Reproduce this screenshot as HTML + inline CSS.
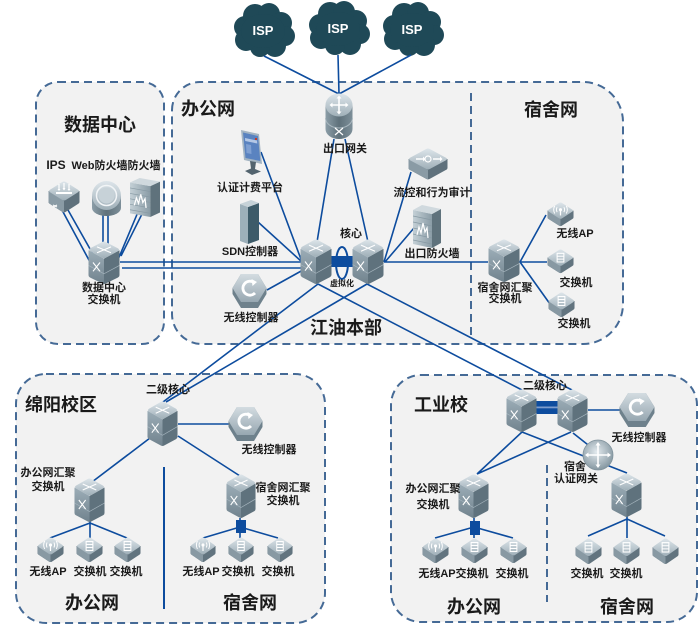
<!DOCTYPE html>
<html><head><meta charset="utf-8">
<style>
html,body{margin:0;padding:0;background:#fff;}
svg{display:block;}
text{font-family:"Liberation Sans","Noto Sans CJK SC",sans-serif;font-weight:bold;fill:#1a1a1a;}
.s{font-size:11px;text-anchor:middle;}
.b{font-size:18px;text-anchor:middle;}
.ln{stroke:#0d4c9e;stroke-width:1.6;fill:none;}
.box{fill:#f2f2f2;stroke:#456a96;stroke-width:2;stroke-dasharray:8 5;}
.dv{stroke:#456a96;stroke-width:2;stroke-dasharray:8 5;fill:none;}
</style></head><body>
<svg width="700" height="635" viewBox="0 0 700 635" xmlns="http://www.w3.org/2000/svg">
<defs>
<linearGradient id="gT" x1="0" y1="0" x2="0" y2="1"><stop offset="0" stop-color="#dde5ea"/><stop offset="1" stop-color="#9fafb8"/></linearGradient>
<linearGradient id="gL" x1="0" y1="0" x2="0" y2="1"><stop offset="0" stop-color="#9cadb7"/><stop offset="1" stop-color="#71838e"/></linearGradient>
<linearGradient id="gH" x1="0" y1="0" x2="0" y2="1"><stop offset="0" stop-color="#d3dce1"/><stop offset="1" stop-color="#97a7b1"/></linearGradient>
<linearGradient id="gCyl" x1="0" y1="0" x2="1" y2="0"><stop offset="0" stop-color="#8c9ea8"/><stop offset="0.5" stop-color="#5f717b"/><stop offset="1" stop-color="#7d8f99"/></linearGradient>
<linearGradient id="gW" x1="0" y1="0" x2="1" y2="0"><stop offset="0" stop-color="#c4d0d6"/><stop offset="1" stop-color="#8a9ca6"/></linearGradient>
<radialGradient id="gG" cx="0.45" cy="0.4" r="0.6"><stop offset="0" stop-color="#e3eaee"/><stop offset="1" stop-color="#8698a2"/></radialGradient>

<symbol id="cloud" viewBox="0 0 64 54">
<g fill="#1f4957">
<circle cx="14" cy="24" r="11"/><circle cx="24" cy="13" r="12"/><circle cx="38" cy="11" r="11"/><circle cx="50" cy="20" r="11"/>
<circle cx="54" cy="33" r="10"/><circle cx="44" cy="43" r="11"/><circle cx="29" cy="44" r="10"/><circle cx="15" cy="37" r="11"/>
<ellipse cx="32" cy="28" rx="22" ry="17"/>
</g>
</symbol>

<symbol id="sw" viewBox="0 0 32 44" preserveAspectRatio="none">
<path d="M16 18 L31.5 9.5 L31.5 35 Q31.5 36.5 30 37.3 L17.5 43.6 Q16.8 44 16 44 Z" fill="#5f727d"/>
<path d="M16 18 L0.5 9.5 L0.5 35 Q0.5 36.5 2 37.3 L14.5 43.6 Q15.2 44 16 44Z" fill="url(#gL)"/>
<path d="M0.5 25 L16 33.5 L31.5 25" stroke="#a6b5be" stroke-width="0.7" fill="none"/>
<path d="M2 7.6 L14.4 0.9 Q16 0 17.6 0.9 L30 7.6 Q32 9 30 10.4 L17.6 17.1 Q16 18 14.4 17.1 L2 10.4 Q0 9 2 7.6Z" fill="url(#gT)"/>
<path d="M9 6 L23 12 M9 12 L23 6" stroke="#fff" stroke-width="1.1"/>
<path d="M5 22 L12 31 M5 31 L12 22" stroke="#fff" stroke-width="1.1"/>
</symbol>

<symbol id="acc" viewBox="0 0 28 26" preserveAspectRatio="none">
<path d="M0.5 9 L0.5 16 Q0.5 17 1.5 17.6 L12.5 24.6 Q14 25.5 15.5 24.6 L26.5 17.6 Q27.5 17 27.5 16 L27.5 9Z" fill="#62747f"/>
<path d="M0.5 9 L0.5 16 Q0.5 17 1.5 17.6 L12.5 24.6 Q13.2 25 14 25 L14 18Z" fill="#8899a3"/>
<path d="M2 7.8 L12.4 1 Q14 0 15.6 1 L26 7.8 Q28 9 26 10.2 L15.6 17 Q14 18 12.4 17 L2 10.2 Q0 9 2 7.8Z" fill="url(#gT)"/>
<rect x="10.5" y="4.5" width="7" height="9" fill="none" stroke="#fff" stroke-width="1.1"/>
<path d="M10.5 7.5 H17.5 M10.5 10.5 H17.5" stroke="#fff" stroke-width="1"/>
</symbol>

<symbol id="ap" viewBox="0 0 28 26" preserveAspectRatio="none">
<path d="M0.5 9 L0.5 16 Q0.5 17 1.5 17.6 L12.5 24.6 Q14 25.5 15.5 24.6 L26.5 17.6 Q27.5 17 27.5 16 L27.5 9Z" fill="#62747f"/>
<path d="M0.5 9 L0.5 16 Q0.5 17 1.5 17.6 L12.5 24.6 Q13.2 25 14 25 L14 18Z" fill="#8899a3"/>
<path d="M2 7.8 L12.4 1 Q14 0 15.6 1 L26 7.8 Q28 9 26 10.2 L15.6 17 Q14 18 12.4 17 L2 10.2 Q0 9 2 7.8Z" fill="url(#gT)"/>
<circle cx="14" cy="8" r="1.6" fill="#fff"/>
<path d="M14 8 L14 14" stroke="#fff" stroke-width="1.3"/>
<path d="M10.5 5.5 Q9 8 10.5 10.5 M17.5 5.5 Q19 8 17.5 10.5 M8 4 Q5.8 8 8 12 M20 4 Q22.2 8 20 12" stroke="#fff" stroke-width="1" fill="none"/>
</symbol>

<symbol id="hex" viewBox="0 0 35 36" preserveAspectRatio="none">
<path d="M9 1 L26 1 L34.5 15 L34.5 21 L26 35 L9 35 L0.5 21 L0.5 15Z" fill="#6e818c"/>
<path d="M9 1 L26 1 L34.5 15 L26 29 L9 29 L0.5 15Z" fill="url(#gH)"/>
<path d="M22 9.5 A7 7 0 1 0 23 20" stroke="#fff" stroke-width="2.8" fill="none"/>
<path d="M19.5 6 L25 9 L20.5 13Z" fill="#fff"/>
</symbol>

<symbol id="rt" viewBox="0 0 28 47" preserveAspectRatio="none">
<path d="M0.5 12 L0.5 36 A13.5 10 0 0 0 27.5 36 L27.5 12Z" fill="url(#gCyl)"/>
<path d="M0.5 25 A13.5 10 0 0 0 27.5 25" stroke="#a9b7bf" stroke-width="1" fill="none"/>
<ellipse cx="14" cy="12" rx="13.5" ry="11.5" fill="url(#gT)"/>
<path d="M14 4 L14 20 M6 12 L22 12" stroke="#fff" stroke-width="1.6"/>
<path d="M14 2.5 L11.5 5.5 H16.5Z M14 21.5 L11.5 18.5 H16.5Z M4.5 12 L7.5 9.5 V14.5Z M23.5 12 L20.5 9.5 V14.5Z" fill="#fff"/>
<path d="M10 35 L18 42 M10 42 L18 35" stroke="#fff" stroke-width="1.2"/>
</symbol>

<symbol id="mon" viewBox="0 0 23 47" preserveAspectRatio="none">
<path d="M1 2 L19 6 L22 36 L4 32Z" fill="#a3b4c2"/>
<path d="M3 4.5 L18 8 L20.3 33 L5.5 30Z" fill="#5a83c0"/>
<path d="M5 10 L17 12.5 L17.3 15.5 L5.2 13Z" fill="#b4c8e6"/>
<path d="M6 16 L11 17 L11.5 26 L6.5 25Z" fill="#7fa0d2"/>
<rect x="15" y="10" width="2" height="2" fill="#c0392b"/>
<path d="M10 33 L16 34 L15 41 L21 43.5 L12 47 L5 43 L11 40.5Z" fill="#52636e"/>
</symbol>

<symbol id="tower" viewBox="0 0 19 44" preserveAspectRatio="none">
<path d="M0 4 L8 7 L8 44 L0 41Z" fill="#9db0ba"/>
<path d="M8 7 L19 3 L19 40 L8 44Z" fill="#3d5b69"/>
<path d="M0 4 L11 0 L19 3 L8 7Z" fill="#c6d2d8"/>
</symbol>

<symbol id="flow" viewBox="0 0 40 32" preserveAspectRatio="none">
<path d="M0.5 11 L0.5 20 Q0.5 21 1.5 21.6 L18.5 31 Q20 31.8 21.5 31 L38.5 21.6 Q39.5 21 39.5 20 L39.5 11Z" fill="#5f717c"/>
<path d="M0.5 11 L0.5 20 Q0.5 21 1.5 21.6 L18.5 31 Q19.2 31.4 20 31.4 L20 22Z" fill="#8a9ba5"/>
<path d="M2 9.8 L18.2 1 Q20 0 21.8 1 L38 9.8 Q40 11 38 12.2 L21.8 21 Q20 22 18.2 21 L2 12.2 Q0 11 2 9.8Z" fill="url(#gT)"/>
<circle cx="20" cy="11" r="3" fill="none" stroke="#fff" stroke-width="1.2"/>
<path d="M8 11 H15 M25 11 H32" stroke="#fff" stroke-width="1.4"/>
<path d="M15 8.5 L17.5 11 L15 13.5Z M32 8.5 L34.5 11 L32 13.5Z" fill="#fff"/>
</symbol>

<symbol id="wall" viewBox="0 0 28 43" preserveAspectRatio="none">
<path d="M0 5 L19 9 L19 43 L0 39Z" fill="url(#gW)"/>
<path d="M19 9 L28 4 L28 38 L19 43Z" fill="#5f727c"/>
<path d="M0 5 L9 0 L28 4 L19 9Z" fill="#d0d9de"/>
<path d="M0 11 L19 15 M0 17 L19 21 M0 23 L19 27 M0 29 L19 33 M0 35 L19 39" stroke="#8799a3" stroke-width="0.7"/>
<path d="M4 30 L6 22 L8 28 L10 18 L12 27 L14 23 L15 33" stroke="#fff" stroke-width="1.2" fill="none"/>
</symbol>

<symbol id="ips" viewBox="0 0 32 32" preserveAspectRatio="none">
<path d="M0.5 10 L0.5 21 Q0.5 22 1.5 22.6 L14.5 31 Q16 31.8 17.5 31 L30.5 22.6 Q31.5 22 31.5 21 L31.5 10Z" fill="#5f717c"/>
<path d="M0.5 10 L0.5 21 Q0.5 22 1.5 22.6 L14.5 31 Q15.2 31.4 16 31.4 L16 20Z" fill="#8a9ba5"/>
<path d="M2 8.8 L14.2 1 Q16 0 17.8 1 L30 8.8 Q32 10 30 11.2 L17.8 19 Q16 20 14.2 19 L2 11.2 Q0 10 2 8.8Z" fill="url(#gT)"/>
<path d="M8 12 L24 12" stroke="#fff" stroke-width="2"/>
<path d="M11 3 V9 M16 2 V9 M21 3 V9" stroke="#fff" stroke-width="1.2"/>
<path d="M9.5 8 L11 10 L12.5 8Z M14.5 7 L16 9.5 L17.5 7Z M19.5 8 L21 10 L22.5 8Z" fill="#fff"/>
<path d="M5 24 L9 26 M5 26 L9 24" stroke="#fff" stroke-width="1"/>
</symbol>

<symbol id="wfw" viewBox="0 0 31 37" preserveAspectRatio="none">
<path d="M1 16 L1 28 A14.5 8 0 0 0 30 28 L30 16Z" fill="url(#gCyl)"/>
<circle cx="15.5" cy="15.5" r="14.5" fill="url(#gT)"/>
<circle cx="15.5" cy="15.5" r="10" fill="none" stroke="#f2f5f7" stroke-width="1.5"/>
<circle cx="15.5" cy="15.5" r="8" fill="#c7d2d8"/>
</symbol>
</defs>

<!-- boxes -->
<rect class="box" x="36" y="82" width="128" height="262" rx="22"/>
<path class="box" d="M172 110 A28 28 0 0 1 200 82 L583 82 A40 40 0 0 1 623 122 L623 304 A40 40 0 0 1 583 344 L202 344 A30 30 0 0 1 172 314 Z"/>
<rect class="box" x="16" y="374" width="309" height="249" rx="30"/>
<rect class="box" x="391" y="375" width="306" height="247" rx="30"/>
<line class="dv" x1="471" y1="93" x2="471" y2="336"/>
<line class="dv" x1="547" y1="465" x2="547" y2="602"/>
<line x1="164" y1="467" x2="164" y2="609" stroke="#0d4c9e" stroke-width="2"/>

<!-- clouds -->
<use href="#cloud" x="231" y="3" width="64" height="54"/>
<use href="#cloud" x="306" y="1" width="64" height="54"/>
<use href="#cloud" x="380" y="2" width="64" height="54"/>
<text x="263" y="35" style="font-size:13px;text-anchor:middle;fill:#fff">ISP</text>
<text x="338" y="33" style="font-size:13px;text-anchor:middle;fill:#fff">ISP</text>
<text x="412" y="34" style="font-size:13px;text-anchor:middle;fill:#fff">ISP</text>

<!-- lines -->
<path class="ln" d="M264 56 L339 94 M338 55 L339 94 M411 55 L339 94"/>
<path class="ln" d="M334 139 L317 242 M345 139 L368 242"/>
<path class="ln" d="M261 152 L302 262 M258 222 L302 262 M267 290 L303 270"/>
<path class="ln" d="M411 172 L384 262 M414 228 L385 262 M384 262 L488 262"/>
<path class="ln" d="M520 262 L546 215 M520 262 L547 262 M520 262 L550 304"/>
<path class="ln" d="M120 262 L302 262 M122 268 L302 268"/>
<path class="ln" d="M62 210 L90 262 M68 210 L94 256 M103 208 L103 245 M108 208 L108 245 M138 212 L117 262 M143 212 L121 256"/>
<path class="ln" d="M318 284 L163 402 M367 284 L166 402 M318 284 L522 390 M367 284 L572 390"/>
<path class="ln" d="M178 424 L230 424 M150 438 L92 482 M178 436 L240 476"/>
<path class="ln" d="M90 518 L90 538 M90 523 L50 538 M90 523 L127 538"/>
<path class="ln" d="M240 518 L240 538 M240 527 L203 538 M240 527 L278 538"/>
<path class="ln" d="M588 410 L620 410 M522 432 L477 474 M571 432 L477 474 M522 432 L627 473 M573 433 L597 452"/>
<path class="ln" d="M474 518 L474 538 M474 527 L435 538 M474 527 L513 538"/>
<path class="ln" d="M627 516 L627 538 M627 519 L588 536 M627 519 L665 536"/>

<!-- bars -->
<rect x="236" y="520" width="10" height="13" fill="#0d4c9e"/>
<rect x="470" y="521" width="10" height="14" fill="#0d4c9e"/>
<rect x="330" y="256" width="24" height="11" fill="#0d4c9e"/>
<ellipse cx="342" cy="263" rx="6" ry="16" fill="none" stroke="#0d4c9e" stroke-width="2"/>
<rect x="535" y="401" width="24" height="13" fill="#0d4c9e"/>
<rect x="535" y="406.5" width="24" height="1.8" fill="#7d9ccc"/>

<!-- icons -->
<use href="#rt" x="325" y="93" width="28" height="47"/>
<use href="#mon" x="240" y="128" width="23" height="47"/>
<use href="#tower" x="240" y="200" width="19" height="44"/>
<use href="#hex" x="232" y="273" width="35" height="36"/>
<use href="#flow" x="408" y="148" width="40" height="32"/>
<use href="#wall" x="413" y="205" width="28" height="43"/>
<use href="#ips" x="48" y="181" width="32" height="32"/>
<use href="#wfw" x="91" y="180" width="31" height="37"/>
<use href="#wall" x="130" y="178" width="30" height="39"/>

<use href="#sw" x="88" y="241" width="32" height="43"/>
<use href="#sw" x="300" y="239" width="32" height="45"/>
<use href="#sw" x="352" y="239" width="32" height="45"/>
<use href="#sw" x="488" y="239" width="32" height="43"/>
<use href="#ap" x="547" y="202" width="27" height="25"/>
<use href="#acc" x="547" y="249" width="27" height="25"/>
<use href="#acc" x="548" y="292" width="27" height="26"/>

<use href="#sw" x="147" y="401" width="31" height="45"/>
<use href="#hex" x="228" y="406" width="35" height="36"/>
<use href="#sw" x="74" y="478" width="31" height="44"/>
<use href="#sw" x="226" y="474" width="30" height="44"/>
<use href="#ap" x="37" y="537" width="27" height="26"/>
<use href="#acc" x="76" y="537" width="27" height="26"/>
<use href="#acc" x="114" y="537" width="27" height="26"/>
<use href="#ap" x="190" y="537" width="26" height="26"/>
<use href="#acc" x="228" y="537" width="26" height="26"/>
<use href="#acc" x="267" y="537" width="26" height="26"/>

<use href="#sw" x="506" y="389" width="31" height="43"/>
<use href="#sw" x="557" y="389" width="31" height="43"/>
<use href="#hex" x="619" y="392" width="36" height="36"/>
<circle cx="598" cy="455" r="15" fill="url(#gG)" stroke="#7f919b" stroke-width="0.8"/>
<path d="M598 444 V466 M587 455 H609" stroke="#fff" stroke-width="1.6"/>
<path d="M598 442 L595.5 445.5 H600.5Z M598 468 L595.5 464.5 H600.5Z M585 455 L588.5 452.5 V457.5Z M611 455 L607.5 452.5 V457.5Z" fill="#fff"/>
<use href="#sw" x="458" y="474" width="31" height="44"/>
<use href="#sw" x="611" y="473" width="31" height="44"/>
<use href="#ap" x="422" y="538" width="27" height="26"/>
<use href="#acc" x="461" y="538" width="27" height="26"/>
<use href="#acc" x="500" y="538" width="27" height="26"/>
<use href="#acc" x="575" y="538" width="27" height="27"/>
<use href="#acc" x="613" y="538" width="27" height="27"/>
<use href="#acc" x="652" y="538" width="27" height="27"/>

<!-- big labels -->
<text class="b" x="100" y="131">数据中心</text>
<text class="b" x="208" y="115">办公网</text>
<text class="b" x="551" y="116">宿舍网</text>
<text class="b" x="346" y="334">江油本部</text>
<text class="b" x="61" y="411">绵阳校区</text>
<text class="b" x="441" y="411">工业校</text>
<text class="b" x="92" y="609">办公网</text>
<text class="b" x="250" y="609">宿舍网</text>
<text class="b" x="474" y="613">办公网</text>
<text class="b" x="627" y="613">宿舍网</text>

<!-- small labels -->
<text class="s" x="56" y="169" style="font-size:12px">IPS</text>
<text class="s" x="116" y="169">Web防火墙防火墙</text>
<text class="s" x="104" y="291">数据中心</text>
<text class="s" x="104" y="303">交换机</text>
<text class="s" x="250" y="191">认证计费平台</text>
<text class="s" x="250" y="255">SDN控制器</text>
<text class="s" x="251" y="321">无线控制器</text>
<text class="s" x="351" y="237">核心</text>
<text class="s" x="342" y="286" style="font-size:8px">虚拟化</text>
<text class="s" x="345" y="152">出口网关</text>
<text class="s" x="432" y="196">流控和行为审计</text>
<text class="s" x="432" y="257">出口防火墙</text>
<text class="s" x="505" y="291">宿舍网汇聚</text>
<text class="s" x="505" y="302">交换机</text>
<text class="s" x="575" y="237">无线AP</text>
<text class="s" x="576" y="286">交换机</text>
<text class="s" x="574" y="327">交换机</text>

<text class="s" x="168" y="393">二级核心</text>
<text class="s" x="269" y="453">无线控制器</text>
<text class="s" x="48" y="476">办公网汇聚</text>
<text class="s" x="48" y="490">交换机</text>
<text class="s" x="283" y="491">宿舍网汇聚</text>
<text class="s" x="283" y="504">交换机</text>
<text class="s" x="48" y="575">无线AP</text>
<text class="s" x="90" y="575">交换机</text>
<text class="s" x="126" y="575">交换机</text>
<text class="s" x="201" y="575">无线AP</text>
<text class="s" x="238" y="575">交换机</text>
<text class="s" x="278" y="575">交换机</text>

<text class="s" x="545" y="389">二级核心</text>
<text class="s" x="639" y="441">无线控制器</text>
<text class="s" x="575" y="470">宿舍</text>
<text class="s" x="576" y="482">认证网关</text>
<text class="s" x="433" y="492">办公网汇聚</text>
<text class="s" x="433" y="508">交换机</text>
<text class="s" x="437" y="577">无线AP</text>
<text class="s" x="472" y="577">交换机</text>
<text class="s" x="512" y="577">交换机</text>
<text class="s" x="587" y="577">交换机</text>
<text class="s" x="626" y="577">交换机</text>
</svg>
</body></html>
